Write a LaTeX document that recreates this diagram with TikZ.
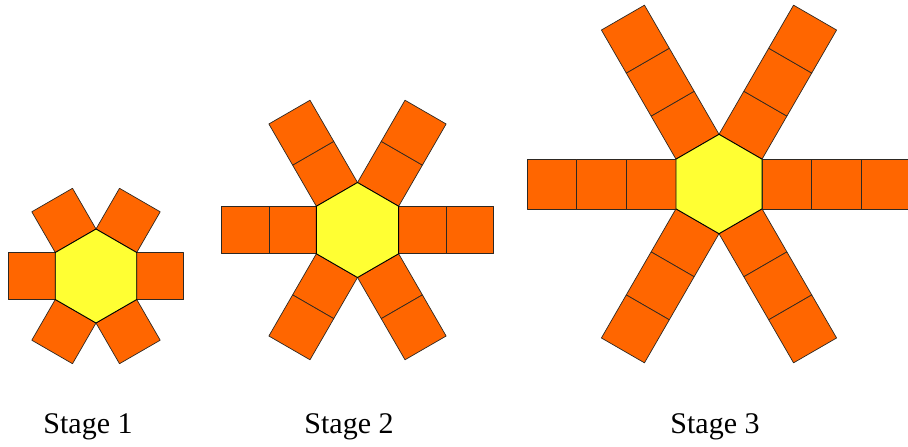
\documentclass[tikz,border=0pt]{standalone}
\usepackage{fontspec}
\setmainfont{Liberation Serif}
\usepackage{tikz}
\usepackage{xcolor}
\definecolor{tileorange}{RGB}{255,102,0}
\definecolor{hexyellow}{RGB}{255,255,51}
\definecolor{edgegray}{RGB}{45,40,35}

\begin{document}
\begin{tikzpicture}[
  x=1pt, y=-1pt,
  tile/.style={draw=edgegray, fill=tileorange, line width=0.7pt, line join=round},
  hexa/.style={draw=black, fill=hexyellow, line width=0.9pt, line join=round},
  lab/.style={font=\fontsize{30}{36}\selectfont, inner sep=0pt}]
\useasboundingbox (0,0) rectangle (908,447);
\clip (0,0) rectangle (908,447);
% stages: centre x, centre y, side, squares per arm
\foreach \cx/\cy/\s/\n in {96/276/47/1, 357.5/230/47.5/2, 719/184/49.7/3} {
  % arms of squares
  \foreach \a in {0,60,...,300}
    \foreach \i in {1,...,\n}
      \draw[tile, shift={(\cx,\cy)}, rotate=\a]
        ({\s*0.866+(\i-1)*\s},{-\s/2}) rectangle ++(\s,\s);
  % hexagon in the middle
  \draw[hexa, shift={(\cx,\cy)}]
    (30:\s) -- (90:\s) -- (150:\s) -- (210:\s) -- (270:\s) -- (330:\s) -- cycle;
}
% stage labels
\node[lab] (st1) at (88,427) {Stage 1};
\node[lab] (st2) at (349,427) {Stage 2};
\node[lab] (st3) at (715,427) {Stage 3};
\end{tikzpicture}
\end{document}
